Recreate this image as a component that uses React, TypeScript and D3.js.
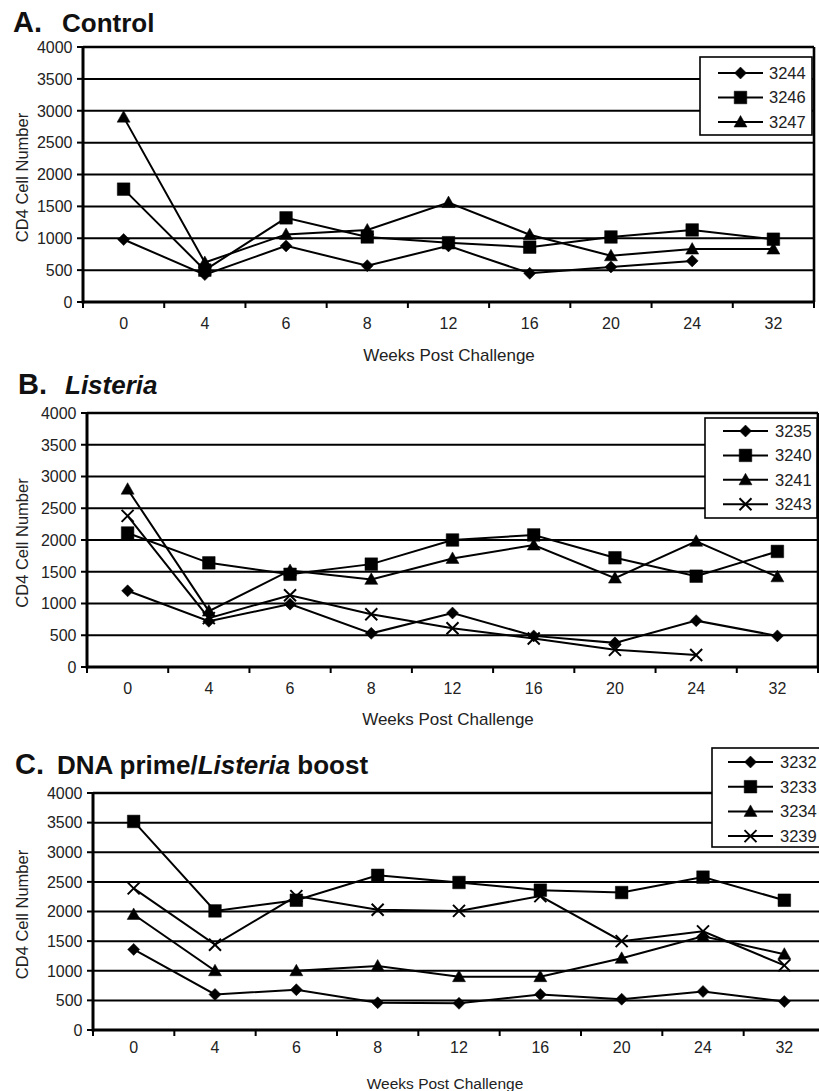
import React from 'react'
import * as d3 from 'd3'

const FONT = "'Liberation Sans', Arial, Helvetica, sans-serif"

// categories (weeks post challenge) and y ticks
const weeks = ['0', '4', '6', '8', '12', '16', '20', '24', '32']
const yTicks = [0, 500, 1000, 1500, 2000, 2500, 3000, 3500, 4000]

// A. Control
const controlIds = ['3244', '3246', '3247']
const control3244 = [980, 430, 880, 570, 880, 450, 550, 645, null]
const control3246 = [1770, 500, 1320, 1020, 930, 860, 1020, 1130, 985]
const control3247 = [2900, 620, 1060, 1130, 1560, 1055, 725, 830, 830]
const controlKinds = ['diamond', 'square', 'triangle']

// B. Listeria
const listeriaIds = ['3235', '3240', '3241', '3243']
const listeria3235 = [1200, 720, 990, 530, 850, 490, 380, 730, 490]
const listeria3240 = [2110, 1640, 1460, 1620, 2000, 2080, 1720, 1430, 1820]
const listeria3241 = [2800, 880, 1520, 1380, 1710, 1920, 1400, 1980, 1420]
const listeria3243 = [2380, 770, 1130, 830, 610, 450, 270, 190, null]
const listeriaKinds = ['diamond', 'square', 'triangle', 'x']

// C. DNA prime / Listeria boost
const primeIds = ['3232', '3233', '3234', '3239']
const prime3232 = [1360, 600, 680, 460, 450, 600, 520, 650, 480]
const prime3233 = [3520, 2010, 2190, 2610, 2490, 2360, 2320, 2580, 2190]
const prime3234 = [1950, 1000, 1000, 1080, 900, 900, 1210, 1580, 1280]
const prime3239 = [2390, 1440, 2260, 2030, 2010, 2260, 1500, 1665, 1090]
const primeKinds = ['diamond', 'square', 'triangle', 'x']

const markerPath = (kind: string) => {
  if (kind === 'diamond') return 'M0,-6L6,0L0,6L-6,0Z'
  if (kind === 'square') return 'M-6.3,-6.3H6.3V6.3H-6.3Z'
  if (kind === 'triangle') return 'M0,-6.5L6.5,5L-6.5,5Z'
  return 'M-6,-6L6,6M-6,6L6,-6'
}

const Marker = ({ kind, cx, cy }) => (
  <path
    d={markerPath(kind)}
    transform={`translate(${cx},${cy})`}
    fill={kind === 'x' ? 'none' : '#000'}
    stroke="#000"
    strokeWidth={kind === 'x' ? 2 : 0.5}
  />
)

const Panel = ({ box, legend, ids, series, kinds, tickLabelY, xTitle }) => {
  const x = d3.scaleBand().domain(weeks).range([box.left, box.right])
  const y = d3.scaleLinear().domain([0, 4000]).range([box.bottom, box.top])
  const cx = (i: number) => (x(weeks[i]) as number) + x.bandwidth() / 2

  const line = d3
    .line<number | null>()
    .defined(d => d != null)
    .x((d, i) => cx(i))
    .y(d => y(d as number))

  const bounds = weeks.map(w => x(w) as number).concat([box.right])

  return (
    <g fontFamily={FONT}>
      {/* gridlines */}
      {yTicks.slice(1).map(t => (
        <line key={t} x1={box.left} x2={box.right} y1={y(t)} y2={y(t)} stroke="#000" strokeWidth={t === 4000 ? 2.6 : 2} />
      ))}
      <line x1={box.right} x2={box.right} y1={box.top} y2={box.bottom} stroke="#000" strokeWidth={2.6} />

      {/* series */}
      {series.map((s, k) => (
        <path key={'l' + k} d={line(s) || ''} fill="none" stroke="#000" strokeWidth={2} />
      ))}
      {series.map((s, k) =>
        s.map((v, i) => (v == null ? null : <Marker key={k + '-' + i} kind={kinds[k]} cx={cx(i)} cy={y(v)} />))
      )}

      {/* axes */}
      <line x1={box.left} x2={box.left} y1={box.top - 1} y2={box.bottom + 1.5} stroke="#000" strokeWidth={3} />
      <line x1={box.left} x2={box.right + 1} y1={box.bottom} y2={box.bottom} stroke="#000" strokeWidth={3} />
      {yTicks.map(t => (
        <g key={'yt' + t}>
          <line x1={box.left - 6} x2={box.left} y1={y(t)} y2={y(t)} stroke="#000" strokeWidth={2} />
          <text x={box.left - 10.5} y={y(t)} dy="0.36em" textAnchor="end" fontSize={16} fill="#222">
            {t}
          </text>
        </g>
      ))}
      {bounds.map((b, i) => (
        <line key={'xt' + i} x1={b} x2={b} y1={box.bottom} y2={box.bottom + 6} stroke="#000" strokeWidth={2} />
      ))}
      {weeks.map((w, i) => (
        <text key={'xl' + w} x={cx(i)} y={tickLabelY} textAnchor="middle" fontSize={16} fill="#222">
          {w}
        </text>
      ))}
      <text x={xTitle.x} y={xTitle.y} textAnchor="middle" fontSize={xTitle.size} fill="#222">
        Weeks Post Challenge
      </text>
      <text
        transform={`translate(22,${(box.top + box.bottom) / 2 + 3}) rotate(-90)`}
        dy="0.36em"
        textAnchor="middle"
        fontSize={16.5}
        fill="#222"
      >
        CD4 Cell Number
      </text>

      {/* legend */}
      <rect
        x={legend.left}
        y={legend.top}
        width={legend.right - legend.left}
        height={legend.bottom - legend.top}
        fill="#fff"
        stroke="#000"
        strokeWidth={1.6}
      />
      {ids.map((id, k) => {
        const ly = legend.rowY + k * legend.step
        return (
          <g key={'lg' + id}>
            <line x1={legend.lineX0} x2={legend.lineX1} y1={ly} y2={ly} stroke="#000" strokeWidth={2} />
            <Marker kind={kinds[k]} cx={(legend.lineX0 + legend.lineX1) / 2} cy={ly} />
            <text x={legend.textX} y={ly} dy="0.36em" fontSize={16.5} fill="#222">
              {id}
            </text>
          </g>
        )
      })}
    </g>
  )
}

const App = () => (
  <svg width={819} height={1091} style={{ position: 'absolute', left: 0, top: 0, background: '#fff' }}>
    <rect width={819} height={1091} fill="#fff" />

    <text y={32} fontFamily={FONT} fontWeight="bold" fill="#111">
      <tspan x={13} fontSize={29}>A.</tspan>
      <tspan x={62} fontSize={26}>Control</tspan>
    </text>
    <Panel
      box={{ left: 83, right: 814, top: 47, bottom: 302 }}
      legend={{ left: 700, right: 812, top: 57, bottom: 135, rowY: 73, step: 24.5, lineX0: 718, lineX1: 763, textX: 769 }}
      ids={controlIds}
      series={[control3244, control3246, control3247]}
      kinds={controlKinds}
      tickLabelY={329}
      xTitle={{ x: 449, y: 361, size: 17 }}
    />

    <text y={394} fontFamily={FONT} fontWeight="bold" fill="#111">
      <tspan x={18} fontSize={29}>B.</tspan>
      <tspan x={65} fontSize={26} fontStyle="italic">Listeria</tspan>
    </text>
    <Panel
      box={{ left: 87, right: 818, top: 413, bottom: 667 }}
      legend={{ left: 705, right: 817, top: 418, bottom: 518, rowY: 431, step: 24.4, lineX0: 723, lineX1: 768, textX: 775 }}
      ids={listeriaIds}
      series={[listeria3235, listeria3240, listeria3241, listeria3243]}
      kinds={listeriaKinds}
      tickLabelY={694}
      xTitle={{ x: 448, y: 725, size: 17 }}
    />

    <text y={774} fontFamily={FONT} fontWeight="bold" fill="#111">
      <tspan x={15} fontSize={29}>C.</tspan>
      <tspan x={57} fontSize={26}>DNA prime/</tspan>
      <tspan fontSize={26} fontStyle="italic">Listeria</tspan>
      <tspan fontSize={26}> boost</tspan>
    </text>
    <Panel
      box={{ left: 93, right: 825, top: 793, bottom: 1030 }}
      legend={{ left: 712, right: 840, top: 748, bottom: 847, rowY: 762, step: 24.7, lineX0: 728, lineX1: 773, textX: 780 }}
      ids={primeIds}
      series={[prime3232, prime3233, prime3234, prime3239]}
      kinds={primeKinds}
      tickLabelY={1053}
      xTitle={{ x: 445, y: 1089, size: 15.5 }}
    />
  </svg>
)

export default App
